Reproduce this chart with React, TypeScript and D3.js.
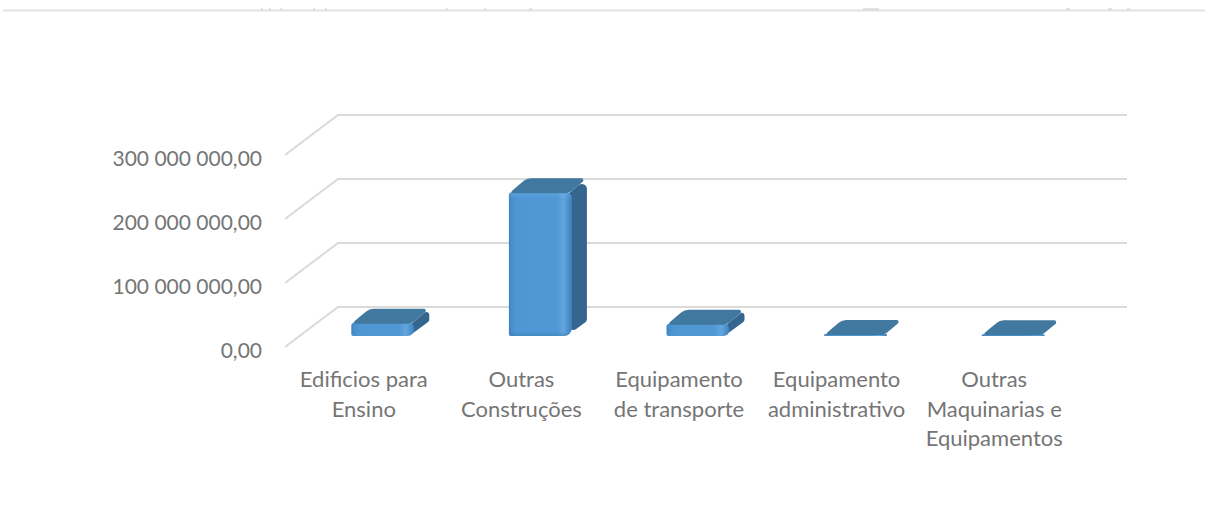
import React from "react";
import * as d3 from "d3";

// Investment by asset class, drawn as a pseudo-3D column chart.
const categories = [
  ["Edificios para", "Ensino"],
  ["Outras", "Construções"],
  ["Equipamento", "de transporte"],
  ["Equipamento", "administrativo"],
  ["Outras", "Maquinarias e", "Equipamentos"],
];
const values = [19000000, 223000000, 17500000, 1500000, 1000000];
const yTicks = [0, 100000000, 200000000, 300000000];
const yTickLabels = ["0,00", "100 000 000,00", "200 000 000,00", "300 000 000,00"];
// Tops of the clipped heading text above the rule: [start, width]
const clippedGlyphs = [
  [261, 2], [269, 2], [280, 2], [313, 2], [325, 2], [446, 2], [484, 2], [529, 3],
  [863, 16], [1066, 4], [1108, 4], [1127, 3],
];

const W = 1205;
const H = 508;
const TEXT = "#757575";
const GRID = "#dadada";
const FONT = "Lato, Carlito, sans-serif";

// Three parallel value planes of the 3D box.
const yBack = d3.scaleLinear().domain([0, 300000000]).range([307, 115]);
const yFront = d3.scaleLinear().domain([0, 300000000]).range([347, 155]);
const yBar = d3.scaleLinear().domain([0, 300000000]).range([336, 144]);
const xBand = d3
  .scaleBand<number>()
  .domain(d3.range(categories.length))
  .range([285, 1073])
  .paddingInner(0);

const BACK_DX = 53;
const BAR_W = 60;
const DEPTH_X = 18;
const DEPTH_Y = 15;

// Closed polygon with rounded corners; each radius shrinks to fit its adjacent edges.
function roundedPoly(pts: [number, number][], radii: number[]) {
  const p = d3.path();
  const n = pts.length;
  const mid = (a: [number, number], b: [number, number]) => [(a[0] + b[0]) / 2, (a[1] + b[1]) / 2];
  const start = mid(pts[n - 1], pts[0]);
  p.moveTo(start[0], start[1]);
  pts.forEach((pt, i) => {
    const prev = pts[(i + n - 1) % n];
    const next = pts[(i + 1) % n];
    const m = mid(pt, next);
    const ax = prev[0] - pt[0];
    const ay = prev[1] - pt[1];
    const bx = next[0] - pt[0];
    const by = next[1] - pt[1];
    const la = Math.hypot(ax, ay);
    const lb = Math.hypot(bx, by);
    const angle = Math.acos(Math.max(-1, Math.min(1, (ax * bx + ay * by) / (la * lb))));
    const tanHalf = Math.tan(angle / 2);
    const maxR = (Math.min(la, lb) / 2) * tanHalf;
    const r = Math.min(radii[i], maxR);
    if (r > 0.05) p.arcTo(pt[0], pt[1], m[0], m[1], r);
    else p.lineTo(pt[0], pt[1]);
    p.lineTo(m[0], m[1]);
  });
  p.closePath();
  return p.toString();
}

function Bar({ i, value }: { i: number; value: number }) {
  const x0 = (xBand(i) as number) + xBand.bandwidth() / 2 - 12.5;
  const x1 = x0 + BAR_W;
  const base = yBar(0);
  const top = yBar(value);
  const h = base - top;
  const side = roundedPoly(
    [
      [x1, top],
      [x1 + DEPTH_X, top - DEPTH_Y],
      [x1 + DEPTH_X, base - DEPTH_Y],
      [x1 - 2, base],
    ],
    [0, 5, 3, 6]
  );
  const topFace = roundedPoly(
    [
      [x0, top],
      [x0 + DEPTH_X, top - DEPTH_Y],
      [x1 + DEPTH_X, top - DEPTH_Y],
      [x1, top],
    ],
    [1.5, 11, 2, 11]
  );
  const front = roundedPoly(
    [
      [x0, top - 1],
      [x1 + 3, top - 1],
      [x1 + 3, base],
      [x0, base],
    ],
    [3, 6, 8, 2]
  );
  return (
    <g>
      {h > 3 && <path d={side} fill="#36668f" />}
      <path d={front} fill="url(#frontFace)" />
      {h > 4 && <path d={front} fill="url(#frontEdge)" />}
      <path d={topFace} fill="#41789f" />
    </g>
  );
}

export default function App() {
  return (
    <svg
      width={W}
      height={H}
      viewBox={`0 0 ${W} ${H}`}
      style={{ position: "absolute", left: 0, top: 0, background: "#fff" }}
    >
      <defs>
        <linearGradient id="frontFace" x1="0" x2="1" y1="0" y2="0">
          <stop offset="0" stopColor="#3f83bd" />
          <stop offset="0.05" stopColor="#4a90cd" />
          <stop offset="0.12" stopColor="#4e96d4" />
          <stop offset="0.76" stopColor="#4f97d5" />
          <stop offset="0.87" stopColor="#64a5dd" />
          <stop offset="0.95" stopColor="#4a8fca" />
          <stop offset="1" stopColor="#3f80b8" />
        </linearGradient>
        <linearGradient id="frontEdge" x1="0" x2="0" y1="0" y2="1">
          <stop offset="0" stopColor="#7cb8ea" stopOpacity="0.35" />
          <stop offset="0.05" stopColor="#7cb8ea" stopOpacity="0" />
          <stop offset="0.97" stopColor="#3a78ad" stopOpacity="0" />
          <stop offset="1" stopColor="#3a78ad" stopOpacity="0.5" />
        </linearGradient>
      </defs>

      {/* Rule and clipped heading above the chart */}
      <line x1={3} x2={W} y1={10.5} y2={10.5} stroke="#e2e2e2" strokeWidth={2} />
      {clippedGlyphs.map(([x, w]) => (
        <rect key={x} x={x} y={8.5} width={w} height={1.2} fill="#cfcfcf" />
      ))}

      {/* Floor and wall gridlines */}
      {yTicks.map((t) => (
        <path
          key={t}
          d={`M${285},${yFront(t)}L${285 + BACK_DX},${yBack(t)}H1127`}
          fill="none"
          stroke={GRID}
          strokeWidth={2}
        />
      ))}

      {values.map((v, i) => (
        <Bar key={i} i={i} value={v} />
      ))}

      {yTicks.map((t, i) => (
        <text
          key={t}
          x={262}
          y={yFront(t) + 11}
          textAnchor="end"
          fontFamily={FONT}
          fontSize={21}
          fill={TEXT}
        >
          {yTickLabels[i]}
        </text>
      ))}

      {categories.map((lines, i) =>
        lines.map((line, j) => (
          <text
            key={line + i}
            x={(xBand(i) as number) + xBand.bandwidth() / 2}
            y={387 + j * 29.5}
            textAnchor="middle"
            fontFamily={FONT}
            fontSize={22}
            fill={TEXT}
          >
            {line}
          </text>
        ))
      )}
    </svg>
  );
}
